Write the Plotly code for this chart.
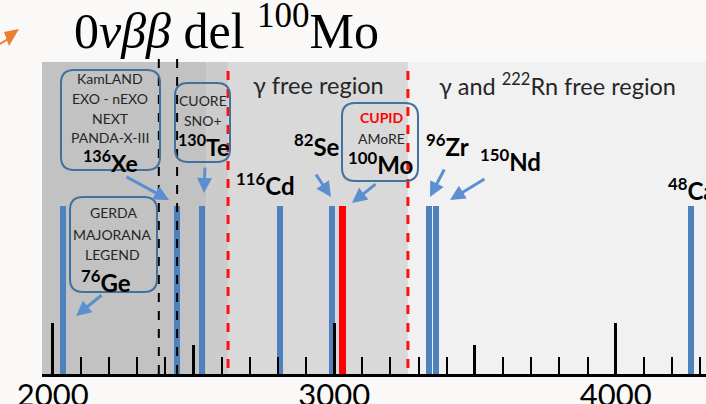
import plotly.graph_objects as go

# ---------------- data ----------------
nuclides = ["76Ge", "136Xe", "130Te", "116Cd", "82Se", "100Mo", "96Zr", "150Nd", "48Ca"]
q_values = [2036, 2442, 2532, 2808, 2991, 3030, 3337, 3363, 4268]   # keV
bar_height = [0.54, 0.54, 0.54, 0.54, 0.54, 0.54, 0.54, 0.54, 0.54]
bar_color = ["#4f81bd"] * 5 + ["#ff0000"] + ["#4f81bd"] * 3
bar_width = [21, 21, 21, 21, 21, 25, 21, 21, 21]

gamma_lines_black = [2377, 2442]     # black dashed lines
gamma_lines_red = [2623, 3262]       # red dashed region limits
region_edges = [1962, 2545, 2623, 3262, 4321]
region_colors = ["#c2c2c2", "#cccccc", "#d9d9d9", "#f1f1f1"]

tick_major = [2000, 3000, 4000]
tick_medium = [2500, 3500]

X0, X1 = 1962, 4321

# ---------------- layout helpers (pixel -> paper) ----------------
L, R, T, B = 42, 706, 62, 374
W, H = 706, 404


def xp(px):
    return (px - L) / (R - L)


def yp(py):
    return (B - py) / (B - T)


def rounded_box(x0, y0, x1, y1, r=13):
    def P(px, py):
        return f"{xp(px):.5f},{yp(py):.5f}"
    return (f"M {P(x0 + r, y0)} L {P(x1 - r, y0)} Q {P(x1, y0)} {P(x1, y0 + r)} "
            f"L {P(x1, y1 - r)} Q {P(x1, y1)} {P(x1 - r, y1)} "
            f"L {P(x0 + r, y1)} Q {P(x0, y1)} {P(x0, y1 - r)} "
            f"L {P(x0, y0 + r)} Q {P(x0, y0)} {P(x0 + r, y0)} Z")


fig = go.Figure()

fig.add_trace(go.Bar(x=q_values, y=bar_height, width=bar_width,
                     marker=dict(color=bar_color, line=dict(width=0)),
                     hoverinfo="skip", showlegend=False))

shapes = []
for i, c in enumerate(region_colors):
    shapes.append(dict(type="rect", xref="x", yref="paper", x0=region_edges[i], x1=region_edges[i + 1],
                       y0=0, y1=1, fillcolor=c, line=dict(width=0), layer="below"))
for xv in gamma_lines_black:
    shapes.append(dict(type="line", xref="x", yref="paper", x0=xv, x1=xv, y0=0, y1=yp(57),
                       line=dict(color="black", width=2, dash="dash")))
for xv in gamma_lines_red:
    shapes.append(dict(type="line", xref="x", yref="paper", x0=xv, x1=xv, y0=yp(368), y1=1,
                       line=dict(color="#ff1010", width=3, dash="dash")))
box_color = "#41719c"
for (bx0, by0, bx1, by1) in [(61, 70, 160, 170), (175, 83, 230, 162), (70, 197, 157, 292), (342, 103, 418, 181)]:
    shapes.append(dict(type="path", xref="paper", yref="paper", path=rounded_box(bx0, by0, bx1, by1),
                       line=dict(color=box_color, width=2), fillcolor="rgba(0,0,0,0)"))
shapes.append(dict(type="path", xref="paper", yref="paper",
                   path=f"M {xp(4)},{yp(32)} L {xp(19)},{yp(29)} L {xp(9)},{yp(46)} Z",
                   fillcolor="#ed7d31", line=dict(width=0)))
shapes.append(dict(type="line", xref="paper", yref="paper", x0=xp(0), y0=yp(44), x1=xp(8), y1=yp(39),
                   line=dict(color="#ed7d31", width=2)))

ann = []
FONT = "Lato"


def txt(px, py, text, size, color="#262626", bold=False, xanchor="center"):
    if bold:
        text = f"<b>{text}</b>"
    ann.append(dict(xref="paper", yref="paper", x=xp(px), y=yp(py), text=text, showarrow=False,
                    xanchor=xanchor, yanchor="middle", font=dict(family=FONT, size=size, color=color)))


def arrow(tx, ty, hx, hy):
    ann.append(dict(xref="paper", yref="paper", x=xp(hx), y=yp(hy), ax=tx - hx, ay=ty - hy,
                    axref="pixel", ayref="pixel", text="", showarrow=True, arrowhead=2,
                    arrowsize=1, arrowwidth=3, arrowcolor="#5b8fd0"))


txt(318, 85, "γ free region", 23.5)
txt(557, 85, "γ and <sup>222</sup>Rn free region", 23.5)

txt(110, 78, "KamLAND", 14)
txt(110, 98, "EXO - nEXO", 14)
txt(110, 118, "NEXT", 14)
txt(110, 137, "PANDA-X-III", 14)
txt(110, 161, "<sup>136</sup>Xe", 23, color="black", bold=True)
arrow(125, 176, 169, 200)
txt(203, 100, "CUORE", 14)
txt(203, 120, "SNO+", 14)
txt(203, 145, "<sup>130</sup>Te", 23, color="black", bold=True)
arrow(205, 166, 204, 193)
txt(113, 212, "GERDA", 14)
txt(112, 234, "MAJORANA", 14)
txt(112, 254, "LEGEND", 14)
txt(106, 281, "<sup>76</sup>Ge", 24, color="black", bold=True)
arrow(103, 294, 76, 316)
txt(381, 117, "CUPID", 14, color="#ff0000", bold=True)
txt(381, 138, "AMoRE", 14)
txt(380, 163, "<sup>100</sup>Mo", 24, color="black", bold=True)
arrow(377, 183, 352, 203)
txt(265, 184, "<sup>116</sup>Cd", 24, color="black", bold=True)
txt(317, 145, "<sup>82</sup>Se", 24, color="black", bold=True)
arrow(315, 173, 331, 197)
txt(447, 145, "<sup>96</sup>Zr", 24, color="black", bold=True)
arrow(445, 168, 430, 197)
txt(510, 160, "<sup>150</sup>Nd", 24, color="black", bold=True)
arrow(486, 178, 450, 200)
txt(666, 189, "<sup>48</sup>Ca", 24, color="black", bold=True, xanchor="left")

ann.append(dict(xref="paper", yref="paper", x=xp(226), y=yp(28), text="0<i>νββ</i> del <sup>100</sup>Mo",
                showarrow=False, xanchor="center", yanchor="middle",
                font=dict(family="Liberation Serif", size=50, color="black")))

fig.update_layout(
    width=W, height=H,
    margin=dict(l=L, r=W - R, t=T, b=H - B, pad=0, autoexpand=False),
    paper_bgcolor="#faf9f7", plot_bgcolor="#f1f1f1",
    shapes=shapes, annotations=ann, bargap=0,
    xaxis=dict(range=[X0, X1], showgrid=False, zeroline=False, showline=True, linecolor="black",
               linewidth=3, ticks="inside", tickmode="array", tickvals=tick_major,
               ticktext=[str(v) for v in tick_major], ticklen=51, tickwidth=2.5, tickcolor="black",
               tickfont=dict(family=FONT, size=31, color="black"), automargin=False,
               ticklabelstandoff=-8,
               minor=dict(ticks="inside", tickmode="linear", tick0=0, dtick=100, ticklen=17, tickwidth=2,
                          tickcolor="black")),
    xaxis2=dict(range=[X0, X1], overlaying="x", matches="x", side="bottom", showgrid=False,
                zeroline=False, showline=False, ticks="inside", tickmode="array", tickvals=tick_medium,
                ticklen=29, tickwidth=2.5, tickcolor="black", showticklabels=False, anchor="y",
                automargin=False),
    yaxis=dict(range=[0, 1], visible=False, fixedrange=True, automargin=False),
)
fig.add_trace(go.Scatter(x=[X0], y=[-1], xaxis="x2", mode="markers", marker=dict(opacity=0),
                         hoverinfo="skip", showlegend=False))

fig.write_html("out.html")
